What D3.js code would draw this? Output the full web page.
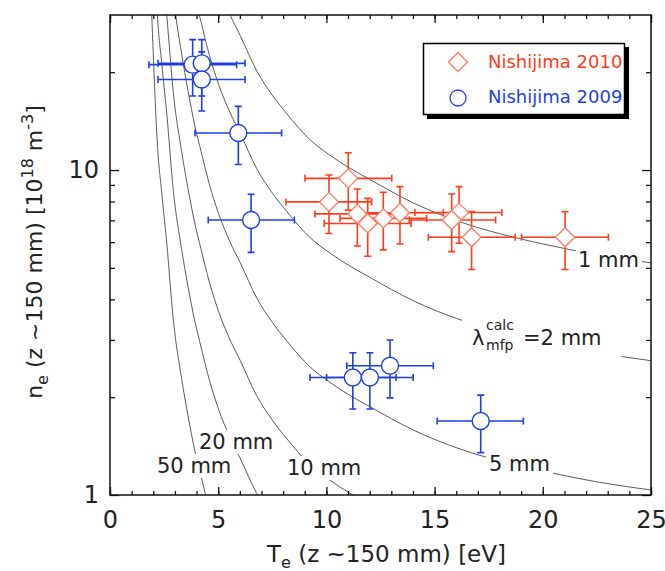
<!DOCTYPE html>
<html>
<head>
<meta charset="utf-8">
<script src="https://cdn.jsdelivr.net/npm/d3@7"></script>
<style>
  body { margin: 0; background: #fff; }
  text { font-family: "DejaVu Sans", sans-serif; }
</style>
</head>
<body>
<div id="chart"></div>
<script>
// Nishijima 2010 (red diamonds): Te [eV], ne [1e18 m^-3]
var te2010   = [11.01, 10.12, 11.43, 11.91, 12.63, 13.40, 16.13, 15.79, 16.71, 21.03];
var te2010Lo = [9.01, 8.13, 9.47, 9.90, 10.63, 11.41, 14.09, 13.83, 14.71, 19.02];
var te2010Hi = [13.02, 12.09, 13.40, 13.91, 14.63, 15.40, 18.11, 17.82, 18.72, 23.03];
var ne2010   = [9.43, 7.98, 7.33, 6.85, 7.10, 7.39, 7.40, 7.02, 6.21, 6.21];
var ne2010Lo = [7.53, 6.38, 5.84, 5.43, 5.68, 5.92, 5.95, 5.61, 4.94, 4.94];
var ne2010Hi = [11.3, 9.65, 8.74, 8.18, 8.54, 8.89, 8.89, 8.44, 7.45, 7.45];

// Nishijima 2009 (blue circles)
var te2009   = [3.82, 4.24, 4.24, 5.93, 6.52, 11.22, 12.01, 12.94, 17.13];
var te2009Lo = [1.80, 2.22, 2.22, 3.93, 4.54, 9.24, 10.01, 10.94, 15.12];
var te2009Hi = [5.85, 6.24, 6.24, 7.93, 8.52, 13.22, 14.01, 14.94, 19.10];
var ne2009   = [21.1, 21.3, 19.0, 13.0, 7.02, 2.30, 2.30, 2.50, 1.69];
var ne2009Lo = [16.9, 16.9, 15.2, 10.4, 5.58, 1.84, 1.84, 1.99, 1.35];
var ne2009Hi = [25.2, 25.2, 23.1, 15.7, 8.42, 2.74, 2.74, 3.00, 2.03];

// calculated mean free path contours: ne on the 1 mm curve, others scale as 1/lambda
var mfpLambdas = [1, 2, 5, 10, 20, 50];
var mfpTe  = [1.93, 2.19, 2.40, 2.62, 2.93, 3.31, 3.60, 3.93, 4.21, 4.60, 5.00, 5.55, 6.01, 6.78,
              7.50, 8.17, 9.24, 10.17, 11.01, 12.01, 14.02, 16.33, 18.62, 20.33, 22.49, 25.0];
var mfpNe1 = [1500, 600, 420, 300, 172, 114, 88, 68, 57, 45, 37, 30, 26, 20.2,
              17, 14.9, 12.4, 11.1, 10.2, 9.35, 7.92, 6.87, 6.22, 5.86, 5.49, 5.18];

var xMajor = [0, 5, 10, 15, 20, 25];
var yMajor = [1, 10];
var yMinor = [2, 3, 4, 5, 6, 7, 8, 9, 20];

var width = 665, height = 571;
var plotL = 110, plotR = 651, plotT = 15, plotB = 495;

var red = "#ff3b1c", redMark = "#ff7a66";
var blue = "#1f3fe6";

var x = d3.scaleLinear().domain([0, 25]).range([plotL, plotR]);
var y = d3.scaleLog().domain([1, 30]).range([plotB, plotT]);

var svg = d3.select('#chart').append('svg')
    .attr('width', width)
    .attr('height', height);

svg.append('clipPath').attr('id', 'plotclip')
    .append('rect')
    .attr('x', plotL).attr('y', plotT)
    .attr('width', plotR - plotL).attr('height', plotB - plotT);

// contour curves
var line = d3.line()
    .x(function (d) { return x(d.t); })
    .y(function (d) { return y(d.n); })
    .curve(d3.curveMonotoneX);

svg.append('g').attr('clip-path', 'url(#plotclip)')
    .selectAll('path')
    .data(mfpLambdas)
    .enter()
    .append('path')
    .attr('d', function (lam) {
        return line(mfpTe.map(function (t, i) { return { t: t, n: mfpNe1[i] / lam }; }));
    })
    .attr('fill', 'none')
    .attr('stroke', '#5a5a5a')
    .attr('stroke-width', 1);

// curve labels (white box behind each breaks the curve)
var labelG = svg.append('g');
function curveLabel(txt, lx, ly, pad) {
    var g = labelG.append('g');
    var rect = g.append('rect').attr('fill', '#fff');
    var t = g.append('text')
        .attr('x', lx).attr('y', ly)
        .style('font-size', '21px')
        .attr('fill', '#222')
        .text(txt);
    var b = t.node().getBBox();
    rect.attr('x', b.x - pad[0]).attr('y', b.y - pad[1])
        .attr('width', b.width + pad[0] + pad[2])
        .attr('height', b.height + pad[1] + pad[3]);
    return g;
}
curveLabel('1 mm', 578, 267, [2, 0, 3, 0]);
curveLabel('5 mm', 489, 471, [3, 0, 3, 0]);
curveLabel('10 mm', 287, 475, [3, 0, 3, 0]);
curveLabel('20 mm', 199, 449, [3, 0, 3, 0]);
curveLabel('50 mm', 157, 473, [3, 0, 3, 0]);

// lambda_mfp^calc = 2 mm
var lamG = labelG.append('g');
var lamRect = lamG.append('rect').attr('fill', '#fff');
var lamT = lamG.append('text').attr('fill', '#222').style('font-size', '21px');
lamT.append('tspan').attr('x', 472).attr('y', 345).text('λ');
lamT.append('tspan').attr('x', 486).attr('y', 330).style('font-size', '14px').text('calc');
lamT.append('tspan').attr('x', 486).attr('y', 350).style('font-size', '14px').text('mfp');
lamT.append('tspan').attr('x', 523).attr('y', 345).text('=2 mm');
var lb = lamT.node().getBBox();
lamRect.attr('x', lb.x - 10).attr('y', lb.y - 3)
    .attr('width', lb.width + 30).attr('height', lb.height + 10);

// axes
function styleAxis(g) {
    g.select('.domain').remove();
    g.selectAll('line').attr('stroke', '#111').attr('stroke-width', 1.3);
    g.selectAll('text').style('font-size', '24px').attr('fill', '#222');
}

svg.append('g').attr('transform', `translate(0,${plotB})`)
    .call(d3.axisBottom(x).tickValues(d3.range(0, 26)).tickSize(-4).tickFormat(''))
    .call(styleAxis);
svg.append('g').attr('transform', `translate(0,${plotB})`)
    .call(d3.axisBottom(x).tickValues(xMajor).tickSize(-8).tickPadding(16).tickFormat(d3.format('d')))
    .call(styleAxis);
svg.append('g').attr('transform', `translate(0,${plotT})`)
    .call(d3.axisTop(x).tickValues(d3.range(0, 26)).tickSize(-4).tickFormat(''))
    .call(styleAxis);
svg.append('g').attr('transform', `translate(0,${plotT})`)
    .call(d3.axisTop(x).tickValues(xMajor).tickSize(-8).tickFormat(''))
    .call(styleAxis);

svg.append('g').attr('transform', `translate(${plotL},0)`)
    .call(d3.axisLeft(y).tickValues(yMinor).tickSize(-5).tickFormat(''))
    .call(styleAxis);
svg.append('g').attr('transform', `translate(${plotL},0)`)
    .call(d3.axisLeft(y).tickValues(yMajor).tickSize(-9).tickPadding(11).tickFormat(d3.format('d')))
    .call(styleAxis);
svg.append('g').attr('transform', `translate(${plotR},0)`)
    .call(d3.axisRight(y).tickValues(yMinor).tickSize(-5).tickFormat(''))
    .call(styleAxis);
svg.append('g').attr('transform', `translate(${plotR},0)`)
    .call(d3.axisRight(y).tickValues(yMajor).tickSize(-9).tickFormat(''))
    .call(styleAxis);

svg.append('rect')
    .attr('x', plotL).attr('y', plotT)
    .attr('width', plotR - plotL).attr('height', plotB - plotT)
    .attr('fill', 'none')
    .attr('stroke', '#111')
    .attr('stroke-width', 1.5);

// axis titles
var xt = svg.append('text')
    .attr('x', 267).attr('y', 562)
    .attr('fill', '#222')
    .style('font-size', '23px');
xt.append('tspan').text('T');
xt.append('tspan').attr('dy', '6px').style('font-size', '16px').text('e');
xt.append('tspan').attr('dy', '-6px').text(' (z ~150 mm) [eV]');

var yt = svg.append('text')
    .attr('transform', 'translate(42,252) rotate(-90)')
    .attr('text-anchor', 'middle')
    .attr('fill', '#222')
    .style('font-size', '22px');
yt.append('tspan').text('n');
yt.append('tspan').attr('dy', '6px').style('font-size', '16px').text('e');
yt.append('tspan').attr('dy', '-6px').text(' (z ~150 mm) [10');
yt.append('tspan').attr('dy', '-9px').style('font-size', '16px').text('18');
yt.append('tspan').attr('dy', '9px').text(' m');
yt.append('tspan').attr('dy', '-9px').style('font-size', '16px').text('-3');
yt.append('tspan').attr('dy', '9px').text(']');

// error bars + markers
var cap = 3.5;
function errorBars(g, te, teLo, teHi, ne, neLo, neHi, color) {
    var pts = te.map(function (t, i) {
        return { t: t, tLo: teLo[i], tHi: teHi[i], n: ne[i], nLo: neLo[i], nHi: neHi[i] };
    });
    var eb = g.selectAll('g.eb').data(pts).enter().append('g')
        .attr('stroke', color).attr('stroke-width', 1.6).attr('fill', 'none');
    eb.append('path').attr('d', function (d) {
        var xc = x(d.t), yc = y(d.n);
        var x0 = x(d.tLo), x1 = x(d.tHi), y0 = y(d.nLo), y1 = y(d.nHi);
        return `M${x0},${yc}H${x1}M${x0},${yc - cap}V${yc + cap}M${x1},${yc - cap}V${yc + cap}` +
            `M${xc},${y0}V${y1}M${xc - cap},${y0}H${xc + cap}M${xc - cap},${y1}H${xc + cap}`;
    });
    return pts;
}

var diamond = d3.symbol().type(d3.symbolSquare).size(180);

var g09 = svg.append('g');
var p09 = errorBars(g09, te2009, te2009Lo, te2009Hi, ne2009, ne2009Lo, ne2009Hi, blue);
g09.selectAll('circle').data(p09).enter().append('circle')
    .attr('cx', function (d) { return x(d.t); })
    .attr('cy', function (d) { return y(d.n); })
    .attr('r', 8.5)
    .attr('fill', '#fff')
    .attr('stroke', blue)
    .attr('stroke-width', 1.4);

var g10 = svg.append('g');
var p10 = errorBars(g10, te2010, te2010Lo, te2010Hi, ne2010, ne2010Lo, ne2010Hi, red);
g10.selectAll('path.mk').data(p10).enter().append('path')
    .attr('class', 'mk')
    .attr('d', diamond)
    .attr('transform', function (d) { return `translate(${x(d.t)},${y(d.n)}) rotate(45)`; })
    .attr('fill', '#fff')
    .attr('stroke', redMark)
    .attr('stroke-width', 1.3);

// legend
var legend = svg.append('g');
legend.append('rect')
    .attr('x', 427).attr('y', 47).attr('width', 202).attr('height', 72)
    .attr('fill', '#000');
legend.append('rect')
    .attr('x', 423.5).attr('y', 43.5).attr('width', 201).attr('height', 71)
    .attr('fill', '#fff').attr('stroke', '#000').attr('stroke-width', 1.5);
legend.append('path')
    .attr('d', diamond)
    .attr('transform', 'translate(458,62) rotate(45)')
    .attr('fill', '#fff').attr('stroke', redMark).attr('stroke-width', 1.3);
legend.append('circle')
    .attr('cx', 458).attr('cy', 98).attr('r', 8)
    .attr('fill', '#fff').attr('stroke', blue).attr('stroke-width', 1.3);
legend.append('text')
    .attr('x', 488).attr('y', 62).attr('dy', '0.35em')
    .attr('fill', red).style('font-size', '18px')
    .text('Nishijima 2010');
legend.append('text')
    .attr('x', 488).attr('y', 97).attr('dy', '0.35em')
    .attr('fill', blue).style('font-size', '18px')
    .text('Nishijima 2009');
</script>
</body>
</html>
